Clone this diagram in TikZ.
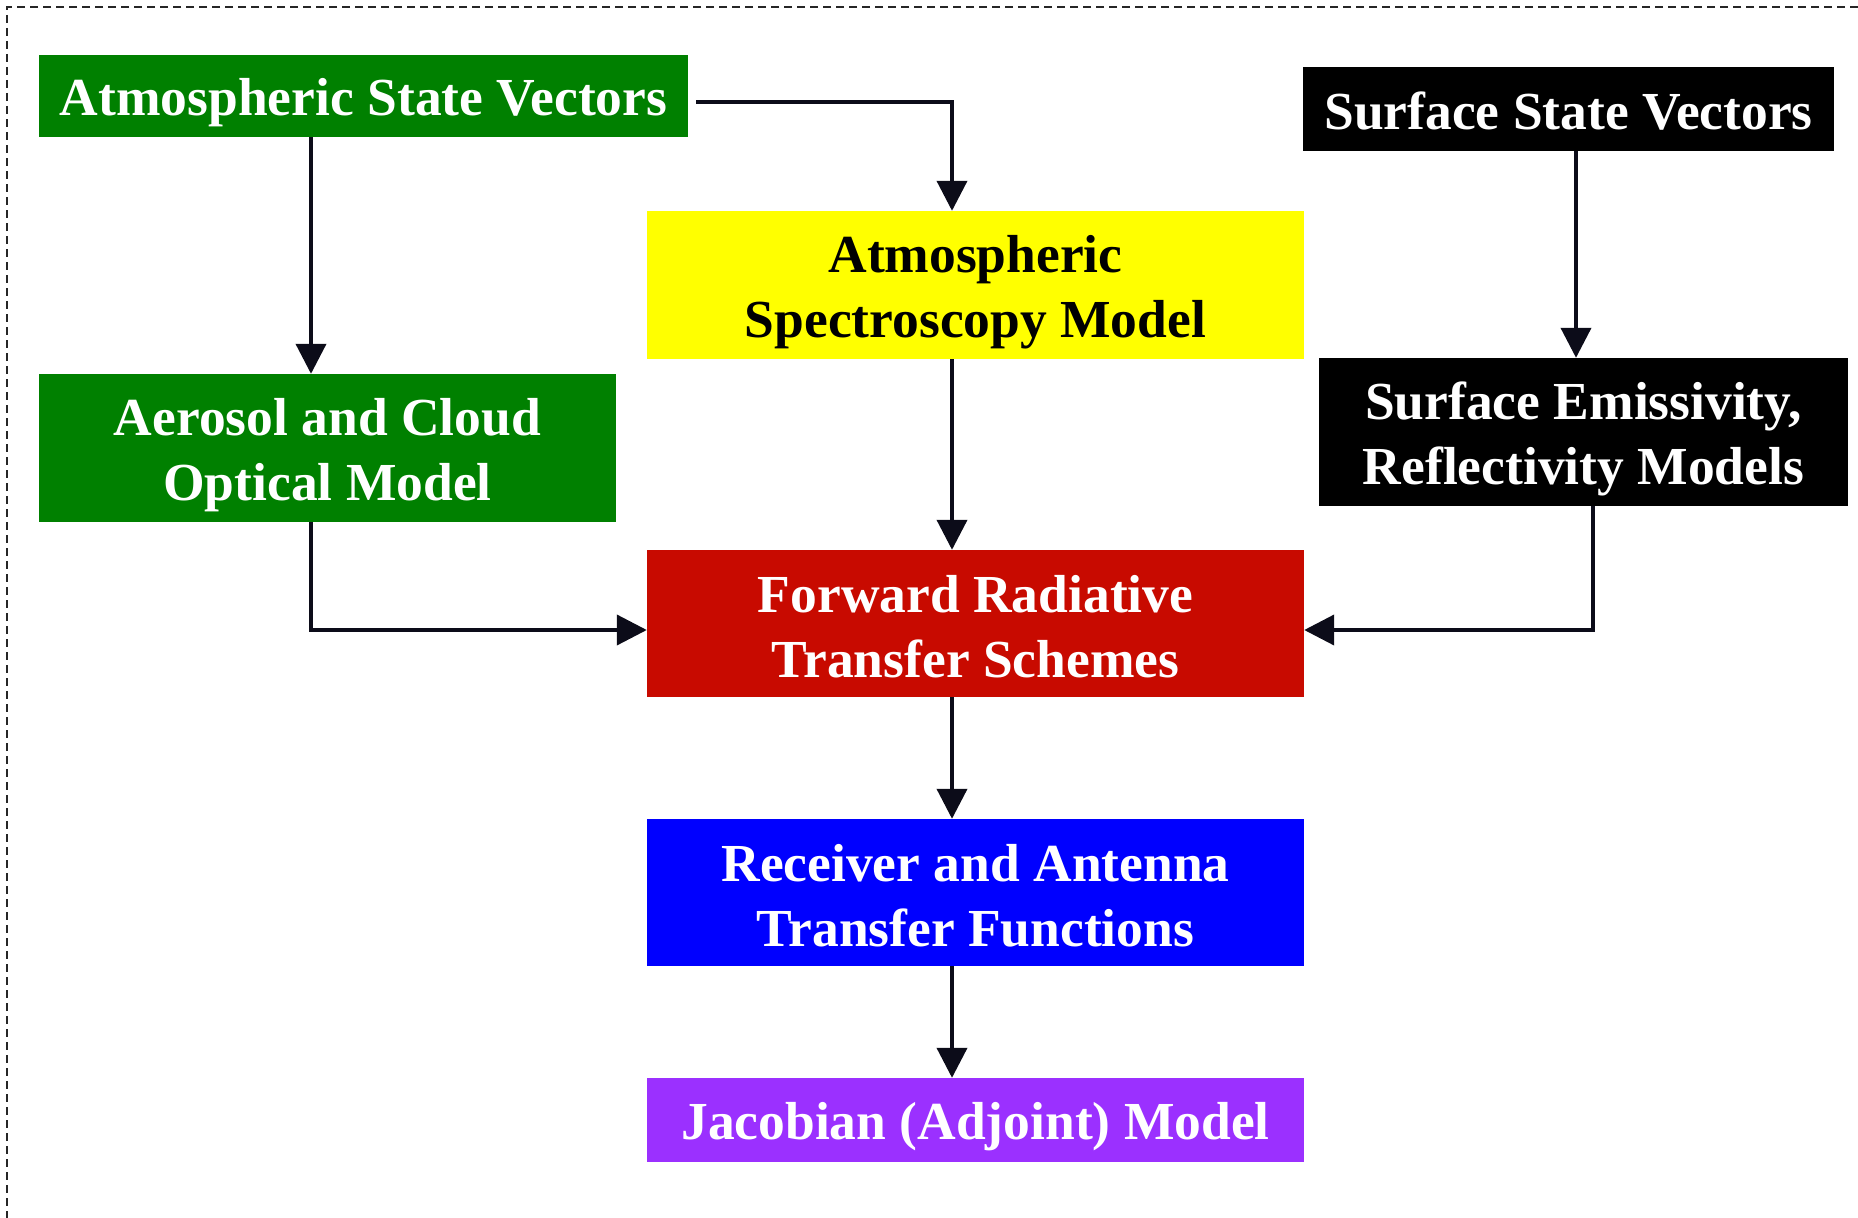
\documentclass[tikz,border=0pt]{standalone}
\usepackage{fontspec}
\setmainfont{Liberation Serif}
\usetikzlibrary{arrows.meta}
\definecolor{cgreen}{RGB}{0,128,0}
\definecolor{cyellow}{RGB}{255,255,0}
\definecolor{cred}{RGB}{200,10,0}
\definecolor{cblue}{RGB}{0,0,255}
\definecolor{cpurple}{RGB}{155,48,255}
\definecolor{carrow}{RGB}{12,12,25}
\begin{document}
\begin{tikzpicture}[x=1pt,y=-1pt,
  box/.style={rectangle, inner sep=0pt},
  lbl/.style={inner sep=0pt, align=center, text=white,
    font=\fontsize{53.5}{65}\selectfont\bfseries},
  conn/.style={draw=carrow, line width=4pt, line join=miter,
    -{Triangle[length=30pt,width=30pt]}},
  border/.style={draw=black!85, line width=1.5pt, dash pattern=on 8pt off 5pt}]
\useasboundingbox (0,0) rectangle (1858,1218);
\draw[border] (1858,7) -- (7,7) -- (7,1218);

\node[box, fill=cgreen, minimum width=649pt, minimum height=82pt] (asv) at (363.5,96) {};
\node[box, fill=cyellow, minimum width=657pt, minimum height=148pt] (asm) at (975.5,285) {};
\node[box, fill=cgreen, minimum width=577pt, minimum height=148pt] (aco) at (327.5,448) {};
\node[box, fill=black, minimum width=531pt, minimum height=84pt] (ssv) at (1568.5,109) {};
\node[box, fill=black, minimum width=529pt, minimum height=148pt] (sem) at (1583.5,432) {};
\node[box, fill=cred, minimum width=657pt, minimum height=147pt] (frt) at (975.5,623.5) {};
\node[box, fill=cblue, minimum width=657pt, minimum height=147pt] (rat) at (975.5,892.5) {};
\node[box, fill=cpurple, minimum width=657pt, minimum height=84pt] (jam) at (975.5,1120) {};

\node[lbl] (asv-t) at ([yshift=-7pt]asv.center) {Atmospheric State Vectors};
\node[lbl, text=black] (asm-t) at ([yshift=-7pt]asm.center) {Atmospheric\\Spectroscopy Model};
\node[lbl] (aco-t) at ([yshift=-7pt]aco.center) {Aerosol and Cloud\\Optical Model};
\node[lbl] (ssv-t) at ([yshift=-2pt]ssv.center) {Surface State Vectors};
\node[lbl] (sem-t) at ([yshift=-7pt]sem.center) {Surface Emissivity,\\Reflectivity Models};
\node[lbl] (frt-t) at ([yshift=-3pt]frt.center) {Forward Radiative\\Transfer Schemes};
\node[lbl] (rat-t) at ([yshift=-3pt]rat.center) {Receiver and Antenna\\Transfer Functions};
\node[lbl] (jam-t) at ([yshift=-7pt]jam.center) {Jacobian (Adjoint) Model};

\coordinate (c1) at (311,630);
\coordinate (c2) at (952,102);
\coordinate (c3) at (1576,0);
\coordinate (c4) at (1593,630);

\draw[conn] (asv.south -| c1) -- (aco.north -| c1);
\draw[conn] ([xshift=8pt]asv.east |- c2) -| (asm.north -| c2);
\draw[conn] (asm.south -| c2) -- (frt.north -| c2);
\draw[conn] (aco.south -| c1) |- (frt.west |- c1);
\draw[conn] (ssv.south -| c3) -- (sem.north -| c3);
\draw[conn] (sem.south -| c4) |- (frt.east |- c4);
\draw[conn] (frt.south -| c2) -- (rat.north -| c2);
\draw[conn] (rat.south -| c2) -- (jam.north -| c2);
\end{tikzpicture}
\end{document}
